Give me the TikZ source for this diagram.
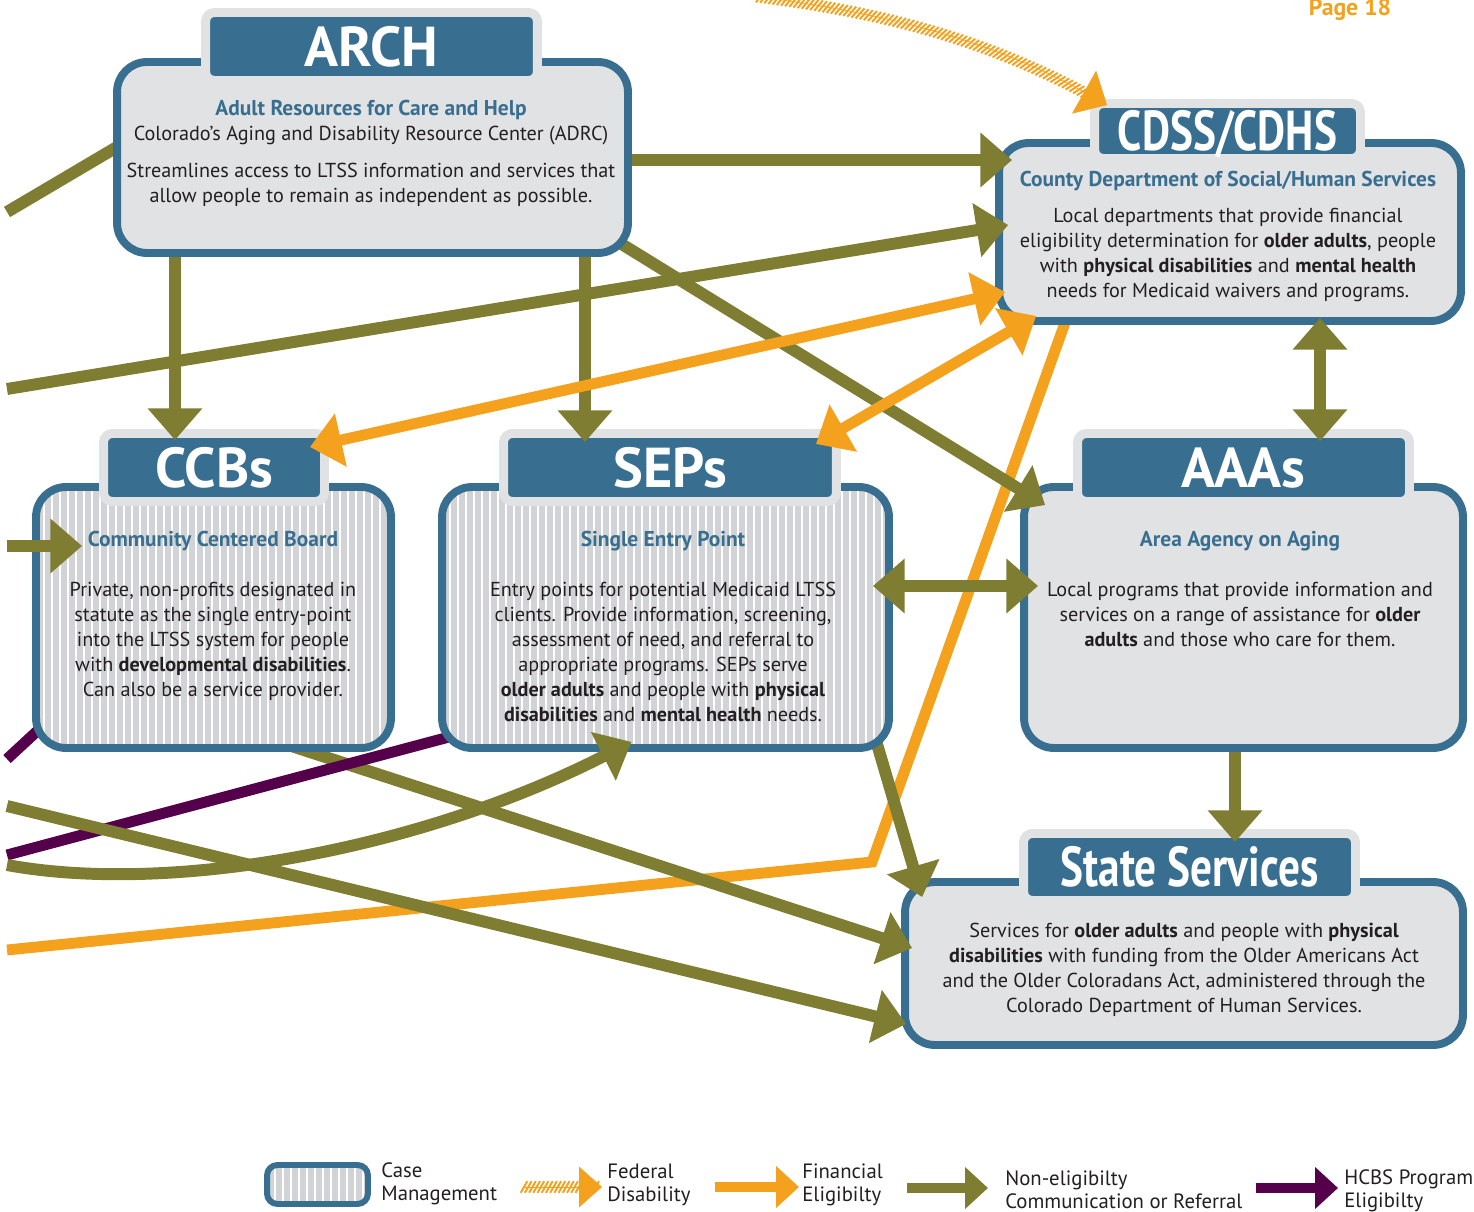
\documentclass[tikz,border=0pt]{standalone}
\usepackage{fontspec}
\setmainfont{PT Sans}
\usetikzlibrary{arrows.meta,calc,decorations.markings}

\definecolor{boxblue}{RGB}{56,110,143}
\definecolor{boxgray}{RGB}{225,226,228}
\definecolor{stripegray}{RGB}{210,211,214}
\definecolor{olive}{RGB}{127,125,50}
\definecolor{amber}{RGB}{244,161,30}
\definecolor{plum}{RGB}{85,0,74}
\definecolor{ink}{RGB}{35,31,32}

\pgfdeclarelayer{base}
\pgfdeclarelayer{mid}
\pgfsetlayers{base,mid,main}

\newcommand{\panelhead}[1]{{\fontsize{12.2}{14.2}\selectfont\bfseries\color{boxblue}#1}}
\newcommand{\narrow}[1]{\scalebox{0.77}[1]{#1}}

\tikzset{
  panel/.style={draw=boxblue, fill=boxgray, line width=4.5pt, rounded corners=17pt, inner sep=0pt},
  stripes/.style={panel, fill=stripegray, path picture={
      \foreach \k in {0,0.16,...,11.6}
        \draw[white, line width=1.4pt] ([xshift=\k cm]path picture bounding box.north west)
          -- ([xshift=\k cm]path picture bounding box.south west);}},
  tab/.style={draw=boxgray, fill=boxblue, line width=5.1pt, rounded corners=5pt, inner sep=0pt,
    text=white, text height=22.4pt, text depth=0pt, font=\fontsize{32}{32}\selectfont\bfseries},
  blurb/.style={anchor=north, align=center, inner sep=0pt, text=ink, font=\fontsize{11.5}{14.2}\selectfont},
  legtext/.style={anchor=west, align=left, inner sep=0pt, text=ink, font=\fontsize{11.8}{13}\selectfont},
  bighead/.style={-{Triangle[length=18pt,width=30pt]}},
  twinhead/.style={{Triangle[length=18pt,width=30pt]}-{Triangle[length=18pt,width=30pt]}},
  leghead/.style={-{Triangle[length=13pt,width=23pt]}},
  oliveline/.style={draw=olive, line width=6.8pt},
  amberline/.style={draw=amber, line width=6.2pt},
  plumline/.style={draw=plum, line width=6.2pt},
  fedline/.style={draw=amber, line width=0.4pt, -{Triangle[length=15pt,width=28pt]},
    postaction={decorate}, decoration={markings,
      mark=between positions 0 and 0.97 step 2.4pt with
        {\draw[-, amber, line width=1.1pt] (-1.9pt,-3.3pt) -- (1.9pt,3.3pt);}}}
}

\begin{document}
\begin{tikzpicture}[x=0.02cm, y=-0.02cm]
\useasboundingbox (0,0) rectangle (1474,1212);

% lower right boxes, under every connector
\begin{pgfonlayer}{base}
\node[panel, minimum width=8.78cm, minimum height=5.22cm] (aaas) at (1243.5,617.5) {};
\node[tab, minimum width=6.64cm, minimum height=1.36cm] (aaatab) at (1243.5,467.5) {AAAs};
\node[blurb] (aaatxt) at (1240,531) {\panelhead{Area Agency on Aging}\\[0.5cm]
  Local programs that provide information and\\
  services on a range of assistance for \textbf{older}\\
  \textbf{adults} and those who care for them.};
\node[panel, minimum width=11.16cm, minimum height=3.26cm] (state) at (1184,963.5) {};
\node[tab, minimum width=6.64cm, minimum height=1.34cm] (statetab) at (1189.5,867) {\narrow{State Services}};
\node[blurb] (statetxt) at (1184,923) {Services for \textbf{older adults} and people with \textbf{physical}\\
  \textbf{disabilities} with funding from the Older Americans Act\\
  and the Older Coloradans Act, administered through the\\
  Colorado Department of Human Services.};
\end{pgfonlayer}

% the other boxes
\node[panel, minimum width=10.22cm, minimum height=3.82cm] (arch) at (372.5,157.5) {};
\node[tab, minimum width=6.64cm, minimum height=1.36cm] (archtab) at (371.5,46.5) {ARCH};
\node[blurb] (archtxt) at (371,100) {\panelhead{Adult Resources for Care and Help}\\
  Colorado’s Aging and Disability Resource Center (ADRC)\\[0.24cm]
  Streamlines access to LTSS information and services that\\
  allow people to remain as independent as possible.};

\node[panel, minimum width=9.24cm, minimum height=3.56cm] (cdss) at (1230,232) {};
\node[tab, minimum width=5.32cm, minimum height=1.10cm] (cdsstab) at (1227.5,131) {\narrow{CDSS/CDHS}};
\node[blurb] (cdsstxt) at (1228,171) {\panelhead{County Department of Social/Human Services}\\[0.22cm]
  Local departments that provide financial\\
  eligibility determination for \textbf{older adults}, people\\
  with \textbf{physical disabilities} and \textbf{mental health}\\
  needs for Medicaid waivers and programs.};

\node[stripes, minimum width=7.10cm, minimum height=5.22cm] (ccbs) at (213.5,617.5) {};
\node[tab, minimum width=4.42cm, minimum height=1.36cm] (ccbtab) at (214,467.5) {CCBs};
\node[blurb] (ccbtxt) at (213,531) {\panelhead{Community Centered Board}\\[0.5cm]
  Private, non-profits designated in\\
  statute as the single entry-point\\
  into the LTSS system for people\\
  with \textbf{developmental disabilities}.\\
  Can also be a service provider.};

\node[stripes, minimum width=8.94cm, minimum height=5.22cm] (seps) at (665.5,617.5) {};
\node[tab, minimum width=6.66cm, minimum height=1.36cm] (septab) at (670,467.5) {SEPs};
\node[blurb] (septxt) at (663,531) {\panelhead{Single Entry Point}\\[0.5cm]
  Entry points for potential Medicaid LTSS\\
  clients. Provide information, screening,\\
  assessment of need, and referral to\\
  appropriate programs. SEPs serve\\
  \textbf{older adults} and people with \textbf{physical}\\
  \textbf{disabilities} and \textbf{mental health} needs.};

\node[text=amber, font=\fontsize{13.5}{13.5}\selectfont\bfseries, inner sep=0pt] (page) at (1350,10) {Page 18};

% free ends at the left margin
\coordinate (wA) at (7,212);
\coordinate (wB) at (7,389);
\coordinate (wC) at (7,950);
\coordinate (wD) at (7,806);
\coordinate (wE) at (7,865);
\coordinate (wF) at (7,855);
\coordinate (wG) at (7,759);
\coordinate (wH) at (7,546);
\coordinate (wI) at (760,-3);
\coordinate (bend) at (872,862);

% connectors that run behind the upper boxes
\begin{pgfonlayer}{mid}
\draw[amberline] (wC) -- (bend) -- ($(cdss.south west)+(77,-22)$);
\draw[oliveline, bighead] ($(arch.south east)+(-30,-25)$) -- ($(aaas.north west)+(25,22)$);
\draw[oliveline, bighead] ($(seps.south east)+(-18,-15)$) -- ($(state.north west)+(21,19)$);
\draw[oliveline, bighead] ($(ccbs.south)+(50,-15)$) -- ($(state.west)+(11,-15.5)$);
\draw[plumline] (wF) -- ($(seps.south west)+(30,-20)$);
\draw[plumline] (wG) -- ($(ccbs.south west)+(15,-30)$);
\draw[oliveline] (wA) -- ($(arch.west)+(20,-20)$);
\end{pgfonlayer}

% connectors on top
\draw[oliveline, bighead] ($(arch.east)+(0,2.5)$) -- ($(cdss.west)+(17,-72)$);
\draw[oliveline, bighead] (wB) -- ($(cdss.west)+(13,-7)$);
\draw[oliveline, bighead] ($(arch.south)+(-197.5,0)$) -- ($(ccbtab.north)+(-39,11)$);
\draw[oliveline, bighead] ($(arch.south)+(212.5,0)$) -- ($(septab.north)+(-85,13)$);
\draw[amberline, twinhead] ($(ccbtab.east)+(-19,-20.5)$) -- ($(cdss.west)+(10,60)$);
\draw[amberline, twinhead] ($(septab.east)+(-25,-23.5)$) -- ($(cdss.south west)+(41,-9)$);
\draw[oliveline, twinhead] ($(cdss.south)+(90,-7)$) -- ($(aaatab.north)+(76.5,12)$);
\draw[oliveline, twinhead] ($(seps.east)+(-20,-31.5)$) -- ($(aaas.west)+(18,-31.5)$);
\draw[oliveline, bighead] ($(aaas.south)+(-8.5,0)$) -- ($(statetab.north)+(45.5,13)$);
\draw[oliveline, bighead] (wD) -- ($(state.south west)+(5,-25)$);
\draw[oliveline, bighead] (wE) .. controls (170,895) and (420,850) .. ($(seps.south)+(-34,-10)$);
\draw[oliveline, bighead] (wH) -- ($(ccbs.west)+(50,-71.5)$);
\draw[fedline] (wI) .. controls (900,15) and (1000,45) .. ($(cdsstab.north west)+(17,6)$);

% legend
\node[stripes, line width=3.4pt, rounded corners=6pt, minimum width=2.02cm, minimum height=0.78cm] (legcase) at (317.5,1184.5) {};
\node[legtext] (legcasetxt) at (381,1184) {Case\\Management};
\node[legtext] (legfed) at (607,1185) {Federal\\Disability};
\node[legtext] (legfin) at (802,1185) {Financial\\Eligibilty};
\node[legtext] (legnon) at (1005,1190) {Non-eligibilty\\Communication or Referral};
\node[legtext] (leghcbs) at (1344,1191) {HCBS Program\\Eligibilty};
\draw[fedline, leghead] ($(legfed.west)+(-83,2)$) -- ($(legfed.west)+(-5,2)$);
\draw[amberline, leghead, line width=5.7pt] ($(legfin.west)+(-87,2)$) -- ($(legfin.west)+(-3,2)$);
\draw[oliveline, leghead, line width=5.7pt] ($(legnon.west)+(-98,-2)$) -- ($(legnon.west)+(-17,-2)$);
\draw[plumline, leghead, line width=5.7pt] ($(leghcbs.west)+(-88,-3)$) -- ($(leghcbs.west)+(-6,-3)$);
\end{tikzpicture}
\end{document}
